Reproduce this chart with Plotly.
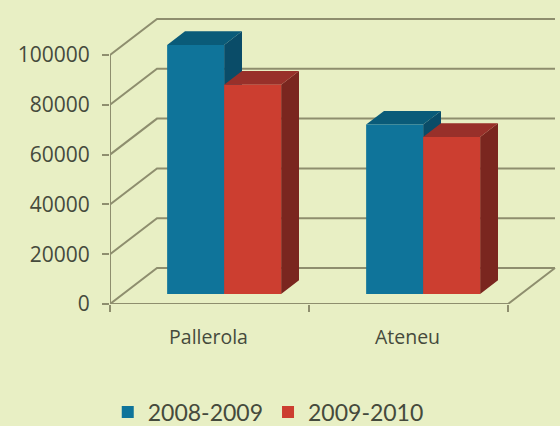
import plotly.graph_objects as go

categories = ["Pallerola", "Ateneu"]
series_names = ["2008-2009", "2009-2010"]
values_2008 = [100000, 68000]
values_2009 = [84000, 63000]
y_ticks = [0, 20000, 40000, 60000, 80000, 100000]

W, H = 560, 426
LEFT, FLOOR_PX = 110, 304
PX_PER_CAT = 199.0
PX_PER_Y = 249.0 / 100000
DX = 47 / PX_PER_CAT          # oblique depth, in axis units
DY = 36 / PX_PER_Y
D0, D1 = 0.28, 0.66           # bar depth span within the floor
BAR_W = 57 / PX_PER_CAT
BAR_START = 0.221

BG = "#E8EFC4"
GRID = "#8E8E6E"
TEXT = "#454a3c"
FONT = "Open Sans"
colors = [
    dict(front="#0F749A", top="#0A5B79", side="#0A4C68"),
    dict(front="#CC3E30", top="#98302A", side="#7A261F"),
]

fig = go.Figure()


def faces(xs, vals):
    side_x, side_y, top_x, top_y = [], [], [], []
    for x, v in zip(xs, vals):
        a0, a1 = x + D0 * DX, x + D1 * DX
        b0, b1 = a0 + BAR_W, a1 + BAR_W
        y0, y1 = D0 * DY, D1 * DY
        side_x += [b0, b1, b1, b0, b0, None]
        side_y += [y0, y1, v + y1, v + y0, y0, None]
        top_x += [a0, a1, b1, b0, a0, None]
        top_y += [v + y0, v + y1, v + y1, v + y0, v + y0, None]
    return side_x, side_y, top_x, top_y


for i, (name, vals) in enumerate(zip(series_names, [values_2008, values_2009])):
    xs = [k + BAR_START + i * BAR_W for k in range(len(categories))]
    c = colors[i]
    z = 1 + 2 * i
    fig.add_trace(go.Bar(
        x=[x + D0 * DX + BAR_W / 2 for x in xs], y=vals, base=D0 * DY, width=BAR_W,
        name=name, marker=dict(color=c["front"], line=dict(width=0)), zorder=z + 1,
        hoverinfo="skip",
    ))
    sx, sy, tx, ty = faces(xs, vals)
    for fx, fy, col in ((sx, sy, c["side"]), (tx, ty, c["top"])):
        fig.add_trace(go.Scatter(
            x=fx, y=fy, mode="lines", fill="toself", fillcolor=col,
            line=dict(width=0, color=col), showlegend=False, hoverinfo="skip", zorder=z,
        ))

n = len(categories)
line = dict(color=GRID, width=2)
shapes = []
for t in y_ticks:
    path = f"M0,{t} L{DX},{t + DY} L{n + DX},{t + DY}"
    shapes.append(dict(type="path", path=path, xref="x", yref="y", layer="below", line=line))
shapes.append(dict(type="line", x0=0, x1=0, y0=0, y1=y_ticks[-1], xref="x", yref="y", layer="below", line=line))
shapes.append(dict(type="path", path=f"M0,0 L{n},0 L{n + DX},{DY}", xref="x", yref="y", layer="below", line=line))

fig.update_layout(
    width=W, height=H, autosize=False,
    margin=dict(l=LEFT, r=0, t=0, b=H - FLOOR_PX, autoexpand=False),
    paper_bgcolor=BG, plot_bgcolor=BG,
    barmode="overlay",
    shapes=shapes,
    font=dict(family=FONT, color=TEXT),
    legend=dict(
        orientation="h", x=-0.005, xanchor="left", y=-0.285, yanchor="top",
        font=dict(family="Lato", size=23, color=TEXT), bgcolor="rgba(0,0,0,0)",
        itemclick=False, itemdoubleclick=False,
    ),
    xaxis=dict(
        range=[0, (W - LEFT) / PX_PER_CAT],
        tickmode="array",
        tickvals=[k + 0.495 for k in range(n)],
        ticktext=categories,
        ticks="outside", ticklen=16, tickcolor="rgba(0,0,0,0)",
        tickfont=dict(size=19.5, color=TEXT),
        minor=dict(tickmode="array", tickvals=list(range(n + 1)), ticks="outside",
                   ticklen=7, tickwidth=2, tickcolor=GRID, showgrid=False),
        showgrid=False, zeroline=False, showline=False,
    ),
    yaxis=dict(
        range=[0, FLOOR_PX / PX_PER_Y],
        tickmode="array", tickvals=y_ticks, ticktext=[str(t) for t in y_ticks],
        ticks="outside", ticklen=7, tickwidth=2, tickcolor=GRID,
        ticklabelstandoff=8,
        tickfont=dict(size=21, color=TEXT),
        showgrid=False, zeroline=False, showline=False,
    ),
)

fig.write_html(
    "out.html",
    config=dict(displayModeBar=False),
    post_script=f"document.body.style.margin='0';document.body.style.background='{BG}';document.body.style.overflow='hidden';",
)
